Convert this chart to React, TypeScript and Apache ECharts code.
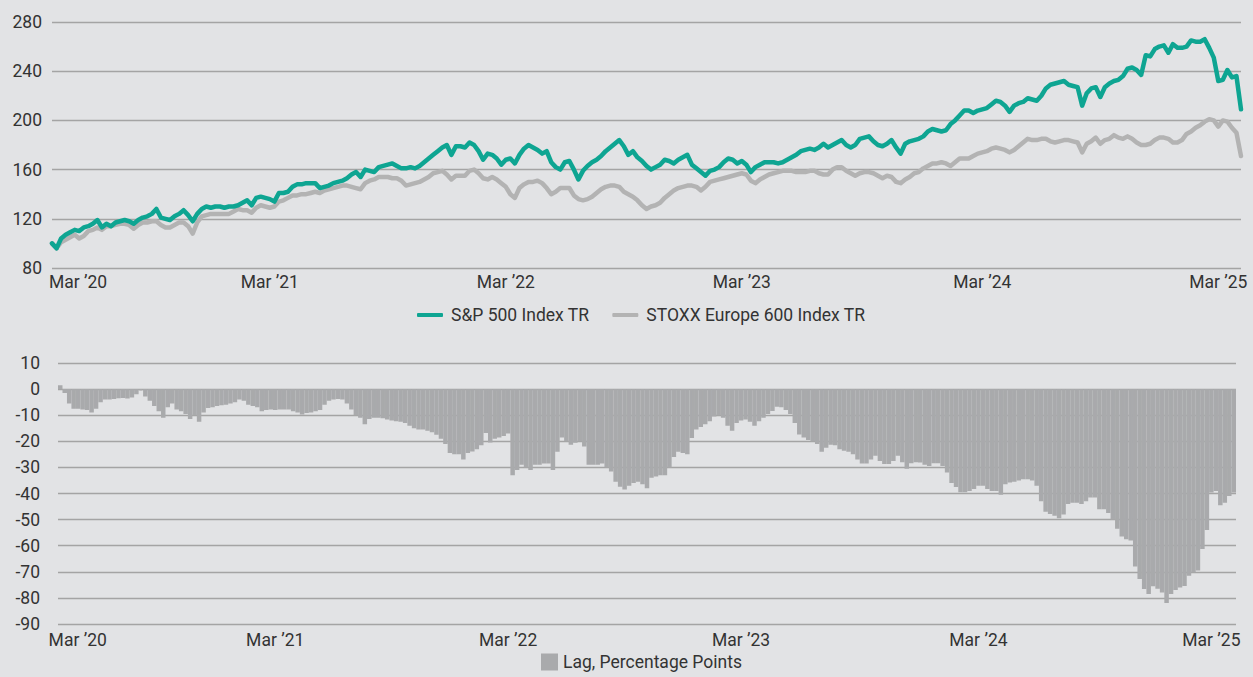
import React, { useEffect, useRef } from "react";
import * as echarts from "echarts";

// Weekly observations (Fridays) starting at this date
const START_DATE = "2020-03-27";

// Indexed total return, start = 100
const spx = [
  100, 96, 104, 107, 109, 111, 110, 113, 114, 116,
  119, 113, 116, 114, 117, 118, 119, 118, 116, 119,
  121, 122, 124, 128, 121, 120, 119, 122, 124, 127,
  123, 118, 124, 128, 130, 129, 130, 130, 129, 130,
  130, 131, 133, 135, 131, 137, 138, 137, 136, 134,
  141, 141, 142, 146, 148, 148, 149, 149, 149, 145,
  146, 147, 149, 150, 151, 153, 156, 158, 154, 160,
  159, 158, 162, 163, 164, 165, 163, 161, 161, 162,
  161, 163, 166, 169, 172, 175, 178, 180, 172, 179,
  179, 178, 182, 180, 175, 168, 173, 172, 169, 164,
  168, 169, 165, 172, 177, 180, 178, 176, 173, 175,
  166, 162, 160, 166, 167, 160, 152, 159, 163, 166,
  168, 171, 175, 178, 181, 184, 179, 172, 175, 170,
  167, 163, 160, 162, 164, 168, 167, 165, 168, 170,
  172, 164, 161, 158, 155, 159, 160, 162, 166, 169,
  168, 165, 167, 164, 158, 162, 164, 166, 166, 166,
  165, 166, 168, 170, 172, 175, 176, 177, 176, 178,
  181, 178, 180, 182, 184, 180, 178, 180, 185, 186,
  187, 183, 180, 179, 181, 184, 178, 173, 181, 183,
  184, 185, 187, 191, 193, 192, 191, 192, 197, 200,
  204, 208, 208, 206, 208, 209, 210, 213, 216, 215,
  212, 207, 212, 214, 215, 218, 217, 216, 220, 226,
  229, 230, 231, 232, 229, 228, 227, 212, 222, 226,
  227, 219, 227, 230, 232, 233, 236, 242, 243, 241,
  237, 253, 252, 258, 260, 261, 255, 262, 259, 259,
  260, 265, 264, 264, 266, 259, 251, 232, 233, 241,
  235, 236, 209,
];

const stoxx = [
  100, 96, 101, 103, 105, 107, 104, 106, 110, 111,
  113, 111, 114, 114, 115, 116, 116, 115, 112, 115,
  117, 117, 118, 118, 115, 113, 113, 115, 117, 117,
  114, 108, 117, 122, 123, 124, 124, 124, 124, 124,
  126, 128, 127, 127, 125, 129, 131, 130, 129, 130,
  134, 135, 137, 139, 139, 140, 140, 141, 142, 141,
  143, 144, 145, 146, 147, 147, 146, 145, 144, 149,
  151, 152, 154, 154, 154, 153, 153, 151, 147, 148,
  149, 150, 152, 154, 157, 158, 159, 156, 152, 155,
  155, 155, 159, 160, 157, 153, 152, 154, 152, 149,
  146, 140, 137, 145, 148, 150, 150, 151, 149, 145,
  140, 142, 145, 145, 145, 139, 136, 135, 136, 138,
  141, 144, 146, 147, 147, 146, 142, 140, 138, 135,
  131, 128, 130, 131, 133, 137, 140, 143, 145, 146,
  147, 147, 146, 143, 146, 150, 151, 152, 153, 154,
  155, 156, 157, 156, 151, 149, 152, 154, 156, 157,
  158, 159, 159, 159, 158, 158, 158, 159, 159, 157,
  156, 156, 160, 162, 162, 159, 157, 155, 157, 158,
  158, 157, 155, 153, 155, 154, 150, 149, 152, 154,
  157, 158, 161, 163, 165, 165, 166, 165, 163, 166,
  169, 169, 169, 171, 173, 174, 175, 177, 178, 177,
  176, 174, 176, 179, 182, 185, 184, 184, 185, 185,
  183, 182, 183, 184, 184, 183, 182, 174, 181, 183,
  186, 181, 184, 185, 188, 186, 185, 187, 185, 182,
  180, 180, 181, 184, 186, 186, 185, 182, 182, 184,
  189, 191, 194, 196, 199, 201, 200, 195, 200, 199,
  194, 190, 171,
];

// Lag of STOXX Europe 600 vs S&P 500, percentage points
const lag = [
  1.5, -1.5, -5.5, -7.5, -7.5, -7.8, -8, -9, -7.5, -5,
  -4, -4, -3.8, -3.5, -3.4, -3.6, -3.2, -2, -0.5, -2.8,
  -4.5, -6.5, -8.5, -11, -7, -5.5, -7.8, -8.5, -9.5, -11.5,
  -10, -12.5, -9, -7.2, -7, -6.5, -6.2, -6, -5.5, -5,
  -4, -4.5, -6, -6.5, -7, -8.5, -8, -7.8, -8, -7.8,
  -7.8, -7.8, -8.5, -9, -9.7, -9.2, -9, -8.5, -8, -6,
  -4.5, -4, -3.8, -4, -5.5, -7.8, -10, -11, -13.5, -11.5,
  -11, -11, -11.2, -11.6, -12, -12.3, -12.5, -13, -14, -15,
  -15.5, -15.5, -16, -16.5, -17.5, -19, -21, -24.5, -25, -25,
  -27, -24.5, -23.9, -23, -21.5, -16.8, -20.5, -19, -18.5, -18,
  -17, -33, -31, -29, -30, -31, -29, -29, -28.5, -28.5,
  -31, -24, -18.5, -20, -21.3, -20.6, -20, -22, -29, -29,
  -29, -28.5, -30, -31.6, -35.5, -37.4, -38.5, -37, -36, -35.5,
  -36.5, -38, -34, -33.5, -33, -33, -30, -26, -24, -24.5,
  -25, -18.7, -15.5, -14.5, -13.5, -12.3, -10.5, -10, -11, -14,
  -16, -13, -12, -11.6, -12.5, -14, -12.3, -11, -9.5, -8.4,
  -6.8, -7, -8, -9.5, -13, -17.4, -18.5, -19.5, -20, -21,
  -24, -22.5, -21.3, -21.5, -23, -23.6, -24, -25, -27, -28.5,
  -28.5, -27, -25.5, -27.5, -28.7, -28.7, -27.5, -25.5, -28, -30.5,
  -28.4, -28, -28.1, -29, -29.5, -28.4, -28.4, -29.5, -32, -36,
  -37.5, -39.5, -39.5, -39, -38.3, -37, -37, -38.3, -39, -39,
  -40.5, -36.5, -35.8, -35.5, -35, -34.5, -34.5, -35, -37, -43,
  -47, -47.9, -48.5, -49.5, -48, -44, -43.5, -43.5, -44, -43,
  -41.5, -41.5, -46, -46, -47.5, -50, -53.5, -56.5, -57.5, -58,
  -68, -72.8, -76.6, -78.5, -75.5, -76.5, -77.9, -82, -78.5, -77,
  -76, -75.4, -71.5, -70.2, -69.5, -61.3, -54, -39.6, -39, -44.5,
  -43.5, -41, -39.6,
];

// Categories at which the x-axis tick labels are placed
const tickDates = ["2020-03-27", "2021-02-26", "2022-02-25", "2023-02-24", "2024-03-01", "2025-02-28"];
const tickLabels = ["Mar \u201920", "Mar \u201921", "Mar \u201922", "Mar \u201923", "Mar \u201924", "Mar \u201925"];

const SPX_NAME = "S&P 500 Index TR";
const STOXX_NAME = "STOXX Europe 600 Index TR";
const LAG_NAME = "Lag, Percentage Points";

function weeklyDates(start: string, n: number): string[] {
  const base = new Date(start + "T00:00:00Z").getTime();
  const out: string[] = [];
  for (let i = 0; i < n; i++) {
    out.push(new Date(base + i * 7 * 86400000).toISOString().slice(0, 10));
  }
  return out;
}

const categories = weeklyDates(START_DATE, spx.length);

const FONT = "Roboto, 'Noto Sans', sans-serif";
const FS = 17.5;
const TXT = "#333333";
const GRID_COLOR = "#a4a4a4";
const TEAL = "#0ea592";
const GREY_LINE = "#b3b3b3";
const BAR_GREY = "#a9aaac";
const BG = "#e2e3e5";

function xLabel(firstPad: number, margin: number) {
  return {
    interval: (_i: number, value: string) => tickDates.indexOf(value) >= 0,
    formatter: (value: string) => {
      const k = tickDates.indexOf(value);
      if (k < 0) return "";
      if (k === 0) return "{first|" + tickLabels[0] + "}";
      return tickLabels[k];
    },
    rich: {
      first: { padding: [0, 0, 0, firstPad], fontSize: FS, fontFamily: FONT, color: TXT },
    },
    color: TXT,
    fontSize: FS,
    fontFamily: FONT,
    margin,
  };
}

export default function App() {
  const ref = useRef<HTMLDivElement>(null);

  useEffect(() => {
    if (!ref.current) return;
    const chart = echarts.init(ref.current, undefined, { renderer: "svg" });
    const option: any = {
      animation: false,
      backgroundColor: BG,
      textStyle: { fontFamily: FONT },
      grid: [
        { left: 52, right: 12, top: 22, height: 246 },
        { left: 58, right: 17, top: 363, height: 261 },
      ],
      legend: [
        {
          data: [SPX_NAME, STOXX_NAME],
          left: 412,
          top: 301,
          icon: "roundRect",
          itemWidth: 26,
          itemHeight: 4,
          itemGap: 23,
          selectedMode: false,
          textStyle: { color: TXT, fontSize: FS, fontFamily: FONT, padding: [0, 0, 0, 3] },
        },
        {
          data: [LAG_NAME],
          left: 536,
          top: 648,
          icon: "rect",
          itemWidth: 15,
          itemHeight: 15,
          selectedMode: false,
          textStyle: { color: TXT, fontSize: FS, fontFamily: FONT, padding: [0, 0, 0, 1] },
        },
      ],
      xAxis: [
        {
          type: "category",
          gridIndex: 0,
          data: categories,
          boundaryGap: false,
          axisLine: { show: false },
          axisTick: { show: false },
          splitLine: { show: false },
          axisLabel: xLabel(52, 5),
        },
        {
          type: "category",
          gridIndex: 1,
          data: categories,
          boundaryGap: true,
          axisLine: { show: false },
          axisTick: { show: false },
          splitLine: { show: false },
          axisLabel: xLabel(35, 7),
        },
      ],
      yAxis: [
        {
          type: "value",
          gridIndex: 0,
          min: 80,
          max: 280,
          interval: 40,
          axisLine: { show: false },
          axisTick: { show: false },
          splitLine: { lineStyle: { color: GRID_COLOR, width: 1.3 } },
          axisLabel: { color: TXT, fontSize: FS, fontFamily: FONT, margin: 10 },
        },
        {
          type: "value",
          gridIndex: 1,
          min: -90,
          max: 10,
          interval: 10,
          axisLine: { show: false },
          axisTick: { show: false },
          splitLine: { lineStyle: { color: GRID_COLOR, width: 1.3 } },
          axisLabel: { color: TXT, fontSize: FS, fontFamily: FONT, margin: 18, padding: [7, 0, 0, 0] },
        },
      ],
      series: [
        {
          type: "line",
          name: STOXX_NAME,
          xAxisIndex: 0,
          yAxisIndex: 0,
          data: stoxx,
          symbol: "none",
          z: 2,
          itemStyle: { color: GREY_LINE },
          lineStyle: { color: GREY_LINE, width: 4.5, cap: "round", join: "round" },
        },
        {
          type: "line",
          name: SPX_NAME,
          xAxisIndex: 0,
          yAxisIndex: 0,
          data: spx,
          symbol: "none",
          z: 3,
          itemStyle: { color: TEAL },
          lineStyle: { color: TEAL, width: 4.5, cap: "round", join: "round" },
        },
        {
          type: "bar",
          name: LAG_NAME,
          xAxisIndex: 1,
          yAxisIndex: 1,
          data: lag,
          barCategoryGap: "0%",
          barGap: "0%",
          itemStyle: { color: BAR_GREY, borderColor: BAR_GREY, borderWidth: 1.6 },
        },
      ],
    };
    chart.setOption(option);
    return () => chart.dispose();
  }, []);

  return (
    <div
      ref={ref}
      style={{ position: "fixed", left: 0, top: 0, width: 1253, height: 677 }}
    />
  );
}
